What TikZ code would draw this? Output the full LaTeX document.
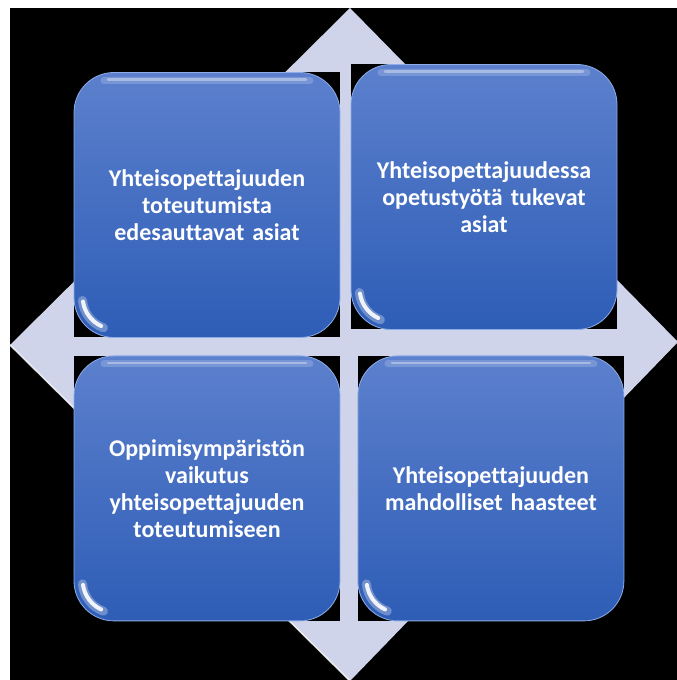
\documentclass[tikz,border=0pt]{standalone}
\usepackage{fontspec}
\setmainfont[Ligatures=NoCommon]{Carlito}
\usetikzlibrary{positioning}
\definecolor{boxtop}{RGB}{92,128,205}
\definecolor{boxbottom}{RGB}{46,93,182}
\definecolor{boxedge}{RGB}{140,172,232}
\definecolor{diamondfill}{RGB}{207,212,234}

\begin{document}
\begin{tikzpicture}[x=1pt,y=1pt,
                    backbox/.style={fill=black,minimum width=266pt,minimum height=265pt,inner sep=0pt},
                    topic/.style={rounded corners=40pt,minimum width=266pt,minimum height=265pt,inner sep=0pt,
                      top color=boxtop,bottom color=boxbottom,draw=boxedge,line width=.8pt,
                      text=white,text width=240pt,align=center,
                      font=\fontsize{24}{27}\selectfont\bfseries,
                      path picture={
                        \draw[white,opacity=.18,line width=7pt,line cap=round]
                          ([xshift=30pt,yshift=-8pt]path picture bounding box.north west) --
                          ([xshift=-30pt,yshift=-8pt]path picture bounding box.north east);
                        \draw[white,opacity=.35,line width=2.5pt,line cap=round]
                          ([xshift=34pt,yshift=-7pt]path picture bounding box.north west) --
                          ([xshift=-34pt,yshift=-7pt]path picture bounding box.north east);
                        \draw[white,opacity=.3,line width=9pt,line cap=round]
                          ([xshift=8.5pt,yshift=37pt]path picture bounding box.south west)
                          arc[start angle=185,end angle=250,radius=32pt];
                        \draw[white,opacity=.9,line width=4pt,line cap=round]
                          ([xshift=9pt,yshift=36pt]path picture bounding box.south west)
                          arc[start angle=188,end angle=245,radius=32pt];
                      }}]

 \useasboundingbox (0,0) rectangle (677,680);
 \fill[black] (10,0) rectangle (677,672);

 % diamond behind the four boxes
 \begin{scope}
  \clip (10,0) rectangle (677,672);
  \coordinate (N) at (350,672);
  \coordinate (E) at (678,338);
  \coordinate (S) at (350,-1);
  \coordinate (W) at (10,335);
  \fill[diamondfill] (N) -- (E) -- (S) -- (W) -- cycle;
  \draw[white,line width=1.5pt,opacity=.8] (W) -- (S);
 \end{scope}

 \node[backbox] (A) at (207,475) {};
 \node[backbox] (B) [right=10.6pt of A,yshift=8pt] {};
 \node[backbox] (C) [below=18pt of A] {};
 \node[backbox] (D) [right=17.5pt of C] {};

 \node[topic] (a) at (A) {Yhteisopettajuuden\\toteutumista\\edesauttavat asiat};
 \node[topic] (b) at (B) {Yhteisopettajuudessa\\opetustyötä tukevat\\asiat};
 \node[topic] (c) at (C) {Oppimisympäristön\\vaikutus\\yhteisopettajuuden\\toteutumiseen};
 \node[topic] (d) at (D) {Yhteisopettajuuden\\mahdolliset haasteet};

\end{tikzpicture}
\end{document}
